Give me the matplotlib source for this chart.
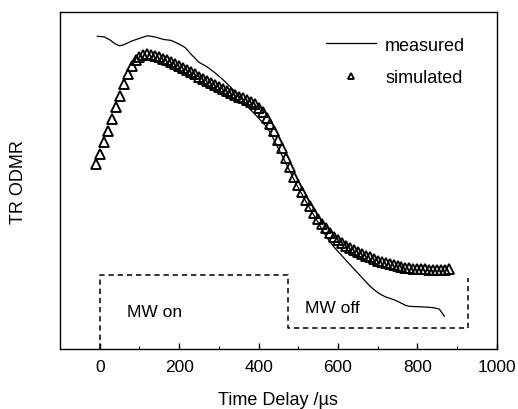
import numpy as np
import matplotlib
matplotlib.use('Agg')
import matplotlib.pyplot as plt

plt.rcParams['font.family'] = ['Liberation Sans', 'DejaVu Sans']

# simulated TR ODMR (triangles), time in us
sim_t = [-10, 0, 10, 20, 30, 40, 50, 60, 70, 80,
         90, 100, 110, 120, 130, 140, 150, 160, 170, 180,
         190, 200, 210, 220, 230, 240, 250, 260, 270, 280,
         290, 300, 310, 320, 330, 340, 350, 360, 370, 380,
         390, 400, 410, 420, 430, 440, 450, 460, 470, 480,
         490, 500, 510, 520, 530, 540, 550, 560, 570, 580,
         590, 600, 610, 620, 630, 640, 650, 660, 670, 680,
         690, 700, 710, 720, 730, 740, 750, 760, 770, 780,
         790, 800, 810, 820, 830, 840, 850, 860, 870, 880]
sim_y = [0.548, 0.580, 0.614, 0.648, 0.683, 0.718, 0.752, 0.786, 0.815, 0.840,
         0.857, 0.867, 0.873, 0.876, 0.873, 0.870, 0.866, 0.862, 0.857, 0.852,
         0.846, 0.840, 0.834, 0.828, 0.822, 0.815, 0.808, 0.801, 0.795, 0.789,
         0.783, 0.777, 0.771, 0.765, 0.759, 0.753, 0.748, 0.744, 0.740, 0.734,
         0.727, 0.716, 0.703, 0.687, 0.668, 0.646, 0.622, 0.596, 0.568, 0.539,
         0.511, 0.487, 0.465, 0.444, 0.424, 0.405, 0.387, 0.372, 0.358, 0.345,
         0.334, 0.324, 0.315, 0.307, 0.300, 0.293, 0.287, 0.282, 0.277, 0.272,
         0.267, 0.263, 0.259, 0.255, 0.252, 0.249, 0.246, 0.244, 0.242, 0.240,
         0.239, 0.238, 0.237, 0.237, 0.236, 0.236, 0.236, 0.236, 0.236, 0.237]

# measured trace
meas_t = [-6, 10, 25, 40, 50, 60, 80, 100, 120, 140, 160, 180, 200, 215, 230,
          250, 270, 290, 310, 330, 350, 360, 370, 380, 390, 400, 410, 420, 430,
          440, 450, 460, 470, 480, 490, 500, 510, 520, 530, 540, 550, 560, 570,
          580, 590, 600, 610, 620, 630, 640, 650, 660, 670, 680, 690, 700, 710,
          720, 730, 740, 750, 760, 770, 780, 800, 820, 840, 855, 868]
meas_y = [0.928, 0.927, 0.918, 0.905, 0.900, 0.903, 0.914, 0.922, 0.930, 0.926,
          0.919, 0.916, 0.905, 0.895, 0.875, 0.851, 0.838, 0.820, 0.800, 0.777,
          0.752, 0.738, 0.722, 0.710, 0.698, 0.686, 0.673, 0.660, 0.641, 0.618,
          0.595, 0.572, 0.549, 0.525, 0.501, 0.479, 0.458, 0.437, 0.416, 0.396,
          0.376, 0.355, 0.335, 0.318, 0.303, 0.290, 0.277, 0.264, 0.251, 0.238,
          0.226, 0.213, 0.200, 0.188, 0.177, 0.168, 0.161, 0.155, 0.151, 0.147,
          0.142, 0.136, 0.130, 0.127, 0.126, 0.125, 0.123, 0.119, 0.098]

# microwave pulse scheme (dashed outline)
pulse_t = [0, 0, 475, 475, 928, 928]
pulse_y = [0.0, 0.22, 0.22, 0.062, 0.062, 0.21]

fig = plt.figure(figsize=(5.18, 4.10), dpi=100)
ax = fig.add_axes([0.116, 0.146, 0.843, 0.822])

ax.plot(meas_t, meas_y, color='black', lw=0.9, label='measured')
ax.plot(sim_t, sim_y, linestyle='none', marker='^', markersize=6.5,
        mfc='none', mec='black', mew=1.35, label='simulated')
ax.plot(pulse_t, pulse_y, color='black', lw=1.1, linestyle=(0, (3.5, 2.5)))

ax.text(69, 0.113, 'MW on', fontsize=12.5, va='center', ha='left')
ax.text(518, 0.125, 'MW off', fontsize=12.5, va='center', ha='left')

ax.set_xlim(-100, 1000)
ax.set_ylim(0, 1)
ax.set_xticks([0, 200, 400, 600, 800, 1000])
ax.set_xticks([100, 300, 500, 700, 900], minor=True)
ax.set_yticks([])
ax.tick_params(axis='x', direction='in', length=4, width=1, labelsize=12.5, pad=7)
ax.tick_params(axis='x', which='minor', direction='in', length=2, width=0.8)
for s in ax.spines.values():
    s.set_linewidth(1.0)

ax.set_xlabel('Time Delay /\u00b5s', fontsize=13, labelpad=12)
ax.set_ylabel('TR ODMR', fontsize=13, labelpad=24)

leg = ax.legend(loc='upper right', bbox_to_anchor=(0.965, 0.975), frameon=False,
                fontsize=13, handlelength=2.8, handletextpad=0.5,
                labelspacing=0.85, numpoints=1, markerscale=0.75)

fig.savefig('out.png', dpi=100)
